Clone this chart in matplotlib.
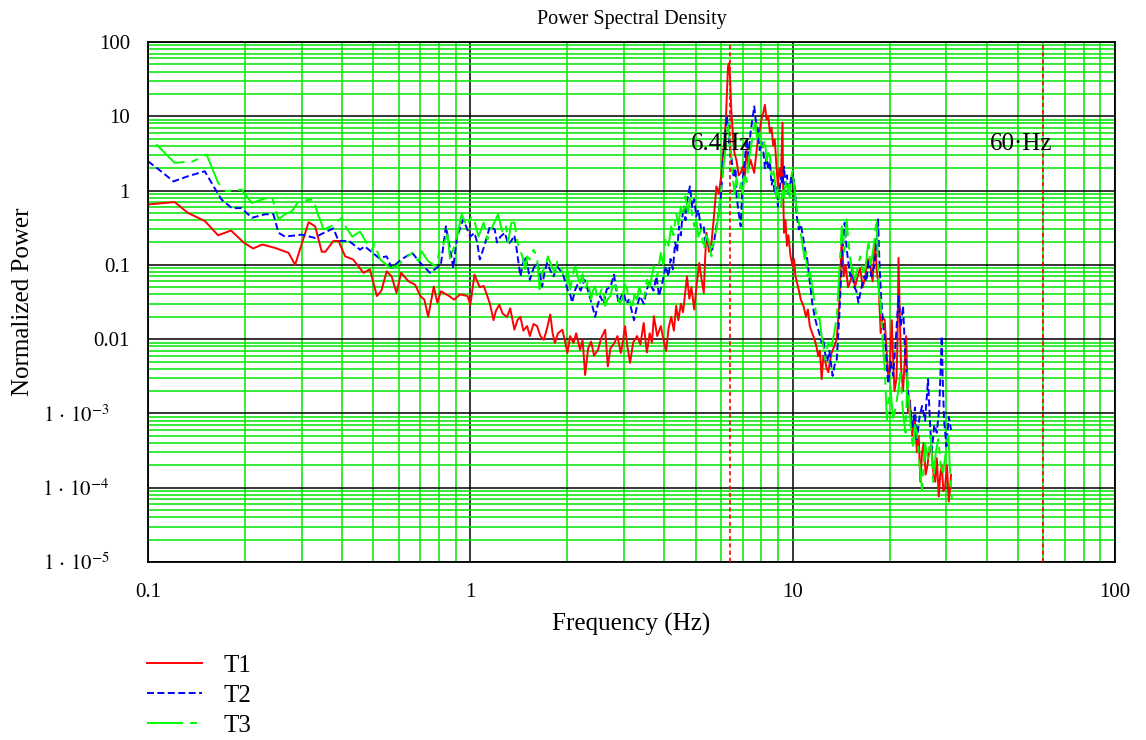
import numpy as np
import matplotlib
matplotlib.use("Agg")
import matplotlib.pyplot as plt
from matplotlib.ticker import FixedLocator, LogLocator, NullFormatter
from matplotlib.transforms import ScaledTranslation

plt.rcParams['font.family'] = ['Liberation Serif', 'DejaVu Serif']
plt.rcParams['mathtext.fontset'] = 'stix'
plt.rcParams['lines.scale_dashes'] = False

# T1 (red, solid)
f1 = [0.100, 0.121, 0.133, 0.150, 0.165, 0.181, 0.198, 0.212, 0.226, 0.248, 0.273, 0.286,
      0.315, 0.330, 0.346, 0.355, 0.376, 0.390, 0.409, 0.433, 0.466, 0.488, 0.513, 0.530,
      0.550, 0.570, 0.590, 0.610, 0.643, 0.674, 0.700, 0.720, 0.740, 0.770, 0.790, 0.810,
      0.860, 0.890, 0.930, 0.980,
      1.00, 1.03, 1.05, 1.07, 1.10, 1.12, 1.15, 1.18, 1.20, 1.23,
      1.26, 1.30, 1.33, 1.37, 1.40, 1.43, 1.46, 1.50, 1.53, 1.57,
      1.61, 1.65, 1.69, 1.73, 1.77, 1.80, 1.83, 1.87, 1.93, 1.97,
      2.00, 2.04, 2.09, 2.13, 2.19, 2.23, 2.27, 2.32, 2.37, 2.42,
      2.49, 2.55, 2.62, 2.67, 2.72, 2.80, 2.86, 2.93, 2.97, 3.02,
      3.07, 3.13, 3.20, 3.29, 3.37, 3.45, 3.50, 3.53, 3.60, 3.66,
      3.71, 3.80, 3.90, 3.97, 4.05, 4.12, 4.20, 4.28, 4.35, 4.42,
      4.50, 4.57, 4.65, 4.70, 4.78, 4.85, 4.95, 5.05, 5.13, 5.20,
      5.30, 5.35, 5.40, 5.50, 5.60, 5.70, 5.80, 5.90, 6.00, 6.10,
      6.20, 6.25, 6.30, 6.35, 6.40, 6.45, 6.50, 6.55, 6.60, 6.70,
      6.80, 6.90, 7.00, 7.10, 7.20, 7.30, 7.40, 7.50, 7.60, 7.70,
      7.80, 7.90, 8.00, 8.10, 8.20, 8.30, 8.40, 8.50, 8.60, 8.70,
      8.80, 8.90, 9.00, 9.10, 9.20, 9.30, 9.35, 9.40, 9.50, 9.60,
      9.70, 9.85, 10.0, 10.1, 10.2, 10.4, 10.6, 10.8, 11.0, 11.15,
      11.3, 11.5, 11.7, 11.85, 12.0, 12.15, 12.3, 12.45, 12.6, 12.75,
      12.9, 13.05, 13.2, 13.45, 13.7, 13.95, 14.2, 14.4, 14.6, 14.85,
      15.1, 15.35, 15.6, 15.9, 16.2, 16.5, 16.8, 17.1, 17.4, 17.7,
      18.0, 18.25, 18.5, 18.75, 19.0, 19.3, 19.6, 19.8, 20.0, 20.3,
      20.5, 20.7, 21.0, 21.15, 21.3, 21.5, 21.7, 22.0, 22.25, 22.5,
      22.8, 23.1, 23.5, 23.9, 24.3, 24.6, 24.9, 25.2, 25.5, 25.85,
      26.2, 26.6, 27.0, 27.35, 27.7, 28.0, 28.4, 28.7, 29.0, 29.35,
      29.7, 30.1, 30.5, 30.8, 31.0]
p1 = [0.65, 0.70, 0.50, 0.39, 0.25, 0.29, 0.20, 0.166, 0.188, 0.169, 0.145, 0.10,
      0.375, 0.33, 0.15, 0.15, 0.21, 0.21, 0.13, 0.118, 0.078, 0.087, 0.038, 0.045,
      0.082, 0.070, 0.042, 0.078, 0.060, 0.054, 0.038, 0.034, 0.020, 0.051, 0.031, 0.044,
      0.038, 0.034, 0.040, 0.038,
      0.029, 0.074, 0.060, 0.050, 0.052, 0.042, 0.030, 0.018, 0.024, 0.029,
      0.022, 0.020, 0.026, 0.0134, 0.018, 0.020, 0.013, 0.015, 0.011, 0.016,
      0.015, 0.011, 0.0098, 0.014, 0.0215, 0.012, 0.0089, 0.012, 0.0134, 0.009,
      0.0065, 0.011, 0.0089, 0.012, 0.0072, 0.0098, 0.0033, 0.0075, 0.0093, 0.006,
      0.0072, 0.0105, 0.0134, 0.0043, 0.0075, 0.0089, 0.011, 0.0065, 0.009, 0.015,
      0.008, 0.0048, 0.009, 0.011, 0.0085, 0.0165, 0.009, 0.0066, 0.012, 0.009,
      0.0204, 0.011, 0.015, 0.010, 0.0069, 0.014, 0.020, 0.013, 0.028, 0.018,
      0.030, 0.023, 0.045, 0.070, 0.035, 0.050, 0.025, 0.060, 0.106, 0.07,
      0.042, 0.12, 0.27, 0.15, 0.20, 0.45, 1.14, 0.9, 1.56, 3.5,
      8.2, 20.0, 47.0, 52.0, 30.0, 12.0, 7.3, 4.5, 3.2, 2.5,
      1.6, 1.73, 2.1, 1.5, 3.6, 2.0, 2.6, 2.1, 1.73, 3.0,
      4.9, 6.5, 9.0, 11.0, 14.3, 9.0, 10.0, 6.0, 7.0, 4.0,
      4.9, 2.2, 1.14, 2.0, 1.5, 8.2, 0.8, 0.27, 0.4, 0.18,
      0.25, 0.13, 0.096, 0.12, 0.07, 0.05, 0.034, 0.028, 0.020, 0.025,
      0.015, 0.012, 0.0098, 0.008, 0.0059, 0.007, 0.0029, 0.006, 0.0053, 0.004,
      0.0036, 0.005, 0.0065, 0.008, 0.010, 0.03, 0.24, 0.07, 0.10, 0.05,
      0.06, 0.08, 0.05, 0.07, 0.09, 0.05, 0.07, 0.12, 0.10, 0.06,
      0.22, 0.08, 0.05, 0.012, 0.020, 0.018, 0.006, 0.003, 0.004, 0.018,
      0.005, 0.002, 0.003, 0.01, 0.124, 0.02, 0.004, 0.002, 0.005, 0.011,
      0.001, 0.0015, 0.0005, 0.0009, 0.0003, 0.0005, 0.00012, 0.0003, 0.0004, 0.00015,
      0.0002, 0.00035, 0.0003, 0.00015, 0.00012, 0.00025, 0.000076, 0.00015, 0.0002, 0.00009,
      0.0001, 0.0002, 0.000065, 0.0001, 0.00015]

# T2 (blue, dashed)
f2 = [0.100, 0.108, 0.120, 0.133, 0.150, 0.162, 0.169, 0.182, 0.195, 0.210, 0.231, 0.245,
      0.254, 0.266, 0.300, 0.330, 0.342, 0.376, 0.390, 0.420, 0.455, 0.470, 0.520, 0.550,
      0.570, 0.610, 0.660, 0.700, 0.750, 0.810, 0.840, 0.870, 0.885, 0.910, 0.950,
      1.00, 1.03, 1.05, 1.07, 1.10, 1.12, 1.15, 1.19, 1.21, 1.24,
      1.28, 1.31, 1.34, 1.37, 1.39, 1.43, 1.46, 1.48, 1.51, 1.53,
      1.57, 1.61, 1.64, 1.67, 1.70, 1.73, 1.77, 1.81, 1.86, 1.93,
      1.97, 2.00, 2.04, 2.07, 2.11, 2.15, 2.20, 2.26, 2.30, 2.33,
      2.38, 2.44, 2.48, 2.53, 2.59, 2.65, 2.72, 2.79, 2.84, 2.88,
      2.94, 2.99, 3.05, 3.10, 3.16, 3.22, 3.29, 3.36, 3.45, 3.53,
      3.60, 3.70, 3.78, 3.85, 3.95, 4.04, 4.12, 4.18, 4.25, 4.32,
      4.38, 4.44, 4.50, 4.55, 4.60, 4.65, 4.72, 4.80, 4.88, 4.95,
      5.02, 5.10, 5.20, 5.30, 5.35, 5.40, 5.50, 5.60, 5.70, 5.80,
      5.90, 6.00, 6.10, 6.20, 6.25, 6.35, 6.45, 6.55, 6.65, 6.70,
      6.80, 6.90, 7.00, 7.10, 7.20, 7.30, 7.40, 7.50, 7.60, 7.70,
      7.80, 7.90, 8.00, 8.10, 8.20, 8.30, 8.40, 8.50, 8.60, 8.70,
      8.80, 8.90, 9.00, 9.10, 9.20, 9.30, 9.40, 9.50, 9.60, 9.70,
      9.80, 9.90, 10.00, 10.10, 10.20, 10.30, 10.45, 10.60, 10.80, 10.95,
      11.10, 11.30, 11.50, 11.70, 11.90, 12.10, 12.30, 12.45, 12.60, 12.80,
      13.00, 13.30, 13.50, 13.70, 13.95, 14.20, 14.35, 14.50, 14.65, 14.80,
      15.10, 15.30, 15.50, 15.75, 16.00, 16.35, 16.70, 16.95, 17.20, 17.55,
      17.90, 18.15, 18.40, 18.60, 18.80, 19.10, 19.40, 19.60, 19.80, 20.15,
      20.50, 20.90, 21.30, 21.65, 22.00, 22.35, 22.70, 23.15, 23.60, 23.95,
      24.30, 24.75, 25.20, 25.75, 26.30, 26.65, 27.00, 27.50, 28.00, 28.50,
      29.00, 29.20, 29.50, 30.00, 30.50, 31.00]
p2 = [2.48, 1.92, 1.33, 1.56, 1.82, 1.03, 0.76, 0.58, 0.58, 0.43, 0.48, 0.48,
      0.27, 0.24, 0.255, 0.23, 0.255, 0.31, 0.21, 0.21, 0.16, 0.178, 0.124, 0.13,
      0.091, 0.118, 0.145, 0.106, 0.078, 0.100, 0.33, 0.145, 0.091, 0.24, 0.41,
      0.24, 0.27, 0.20, 0.118, 0.17, 0.22, 0.33, 0.30, 0.20, 0.24,
      0.27, 0.19, 0.21, 0.25, 0.17, 0.07, 0.11, 0.13, 0.09, 0.063,
      0.09, 0.106, 0.08, 0.051, 0.08, 0.106, 0.085, 0.070, 0.095, 0.078,
      0.06, 0.047, 0.04, 0.031, 0.045, 0.054, 0.045, 0.063, 0.05, 0.042,
      0.03, 0.020, 0.028, 0.038, 0.03, 0.047, 0.05, 0.074, 0.045, 0.031,
      0.038, 0.042, 0.03, 0.034, 0.025, 0.018, 0.028, 0.038, 0.03, 0.047,
      0.057, 0.045, 0.07, 0.038, 0.06, 0.096, 0.07, 0.12, 0.087, 0.2,
      0.15, 0.33, 0.25, 0.45, 0.61, 0.4, 0.8, 1.14, 0.6, 0.76,
      0.45, 0.55, 0.3, 0.33, 0.2, 0.24, 0.18, 0.145, 0.2, 0.33,
      0.5, 0.93, 3.0, 7.0, 10.0, 4.5, 2.9, 1.5, 2.0, 0.84,
      0.5, 0.33, 1.4, 2.5, 4.9, 3.0, 6.0, 9.0, 13.6, 8.0,
      6.6, 3.5, 4.5, 3.6, 2.0, 2.8, 1.9, 2.5, 1.2, 1.4,
      0.9, 1.1, 0.61, 1.0, 1.5, 1.2, 2.1, 1.2, 1.6, 0.9,
      1.14, 1.5, 1.27, 1.4, 0.8, 0.45, 0.3, 0.35, 0.22, 0.15,
      0.118, 0.06, 0.031, 0.02, 0.015, 0.012, 0.0089, 0.01, 0.0065, 0.005,
      0.007, 0.0032, 0.0045, 0.0053, 0.02, 0.106, 0.2, 0.37, 0.2, 0.13,
      0.07, 0.09, 0.051, 0.045, 0.031, 0.05, 0.070, 0.06, 0.118, 0.07,
      0.096, 0.15, 0.41, 0.1, 0.038, 0.015, 0.0089, 0.004, 0.0025, 0.005,
      0.0032, 0.01, 0.038, 0.015, 0.028, 0.006, 0.0023, 0.0012, 0.00067, 0.0012,
      0.00045, 0.0009, 0.00126, 0.0008, 0.0029, 0.0008, 0.0003, 0.0007, 0.00055, 0.0012,
      0.011, 0.003, 0.0008, 0.00036, 0.0009, 0.0006]

# T3 (green, long dash - short dash)
f3 = [0.106, 0.121, 0.138, 0.152, 0.165, 0.175, 0.195, 0.210, 0.242, 0.254, 0.266, 0.280,
      0.293, 0.326, 0.338, 0.342, 0.350, 0.370, 0.400, 0.410, 0.430, 0.455, 0.476, 0.495,
      0.505, 0.525, 0.565, 0.590, 0.605, 0.630, 0.660, 0.690, 0.705, 0.740, 0.780, 0.800,
      0.830, 0.850, 0.865, 0.910, 0.940, 0.975,
      1.010, 1.030, 1.060, 1.080, 1.100, 1.130, 1.150, 1.180, 1.220, 1.240,
      1.260, 1.290, 1.310, 1.340, 1.370, 1.400, 1.450, 1.480, 1.500, 1.530,
      1.570, 1.610, 1.640, 1.670, 1.710, 1.740, 1.770, 1.830, 1.860, 1.900,
      1.970, 2.000, 2.040, 2.080, 2.110, 2.150, 2.190, 2.230, 2.270, 2.320,
      2.370, 2.400, 2.440, 2.480, 2.530, 2.570, 2.620, 2.670, 2.720, 2.780,
      2.850, 2.900, 2.960, 3.010, 3.060, 3.110, 3.170, 3.230, 3.290, 3.340,
      3.390, 3.460, 3.530, 3.600, 3.710, 3.800, 3.900, 3.970, 4.040, 4.120,
      4.200, 4.270, 4.350, 4.420, 4.500, 4.570, 4.650, 4.730, 4.810, 4.880,
      4.950, 5.020, 5.100, 5.200, 5.300, 5.400, 5.500, 5.600, 5.700, 5.800,
      5.900, 6.000, 6.100, 6.200, 6.300, 6.370, 6.450, 6.520, 6.600, 6.700,
      6.800, 6.900, 7.000, 7.100, 7.200, 7.300, 7.400, 7.500, 7.650, 7.750,
      7.900, 8.000, 8.100, 8.200, 8.300, 8.400, 8.500, 8.600, 8.700, 8.800,
      8.900, 9.000, 9.100, 9.200, 9.300, 9.400, 9.500, 9.600, 9.700, 9.800,
      9.900, 10.00, 10.10, 10.20, 10.35, 10.50, 10.70, 10.90, 11.00, 11.10,
      11.30, 11.50, 11.70, 11.90, 12.10, 12.30, 12.45, 12.60, 12.90, 13.20,
      13.45, 13.70, 13.95, 14.20, 14.45, 14.70, 14.90, 15.10, 15.35, 15.60,
      15.90, 16.20, 16.50, 16.80, 17.00, 17.20, 17.40, 17.60, 17.90, 18.20,
      18.35, 18.50, 18.75, 19.00, 19.30, 19.60, 19.85, 20.10, 20.50, 20.90,
      21.25, 21.60, 22.00, 22.40, 22.70, 23.15, 23.60, 23.95, 24.30, 24.75,
      25.20, 25.75, 26.30, 26.80, 27.30, 27.80, 28.30, 28.80, 29.30, 29.85,
      30.40, 30.80, 31.20]
p3 = [4.2, 2.36, 2.48, 3.05, 1.27, 0.98, 1.03, 0.68, 0.84, 0.41, 0.48, 0.53,
      0.72, 0.76, 0.45, 0.41, 0.30, 0.33, 0.43, 0.33, 0.24, 0.28, 0.20, 0.16,
      0.19, 0.118, 0.091, 0.096, 0.106, 0.124, 0.145, 0.112, 0.153, 0.112, 0.096, 0.145,
      0.20, 0.255, 0.118, 0.24, 0.48, 0.33,
      0.45, 0.385, 0.24, 0.30, 0.37, 0.22, 0.28, 0.35, 0.48, 0.35,
      0.27, 0.33, 0.20, 0.37, 0.37, 0.20, 0.13, 0.087, 0.13, 0.118,
      0.16, 0.13, 0.047, 0.08, 0.096, 0.13, 0.106, 0.078, 0.11, 0.096,
      0.063, 0.085, 0.047, 0.07, 0.106, 0.07, 0.057, 0.075, 0.047, 0.06,
      0.034, 0.045, 0.051, 0.035, 0.042, 0.05, 0.028, 0.035, 0.038, 0.06,
      0.047, 0.03, 0.034, 0.055, 0.047, 0.035, 0.025, 0.04, 0.034, 0.05,
      0.042, 0.035, 0.063, 0.05, 0.096, 0.07, 0.145, 0.10, 0.24, 0.18,
      0.33, 0.25, 0.50, 0.35, 0.61, 0.45, 0.84, 0.5, 0.76, 0.45,
      0.33, 0.4, 0.24, 0.3, 0.16, 0.25, 0.20, 0.13, 0.22, 0.3,
      0.50, 1.0, 2.1, 4.0, 8.2, 5.0, 2.9, 1.5, 0.93, 1.5,
      0.8, 1.27, 0.9, 1.73, 1.3, 2.5, 3.6, 5.0, 9.0, 5.0,
      6.0, 3.5, 4.0, 4.9, 2.5, 3.2, 2.9, 1.6, 2.0, 1.4,
      0.8, 1.1, 0.7, 0.61, 1.0, 0.8, 1.4, 0.9, 1.2, 0.8,
      1.56, 1.9, 1.2, 0.76, 0.5, 0.33, 0.2, 0.118, 0.15, 0.07,
      0.08, 0.051, 0.03, 0.018, 0.02, 0.011, 0.008, 0.0053, 0.009, 0.008,
      0.012, 0.020, 0.08, 0.33, 0.15, 0.41, 0.2, 0.118, 0.08, 0.063,
      0.09, 0.13, 0.08, 0.087, 0.14, 0.22, 0.1, 0.118, 0.2, 0.41,
      0.15, 0.042, 0.03, 0.010, 0.004, 0.00083, 0.0015, 0.0023, 0.0008, 0.00126,
      0.002, 0.0035, 0.001, 0.00055, 0.0035, 0.0008, 0.00033, 0.0007, 0.00055, 0.0002,
      0.000095, 0.0004, 0.00024, 0.0005, 0.00012, 0.0003, 0.00045, 0.0002, 0.00016, 0.0003,
      0.00055, 0.00015, 0.00007]

marker_freqs = [6.4, 60.0]
marker_labels = ["6.4Hz", "60\u00b7Hz"]
marker_label_x = [6.0, 51.0]
marker_label_y = 4.2

x_ticks = [0.1, 1, 10, 100]
x_ticklabels = ["0.1", "1", "10", "100"]
y_ticks = [1e-5, 1e-4, 1e-3, 0.01, 0.1, 1, 10, 100]
y_ticklabels = [r"$1\,\cdot\,10^{-5}$", r"$1\,\cdot\,10^{-4}$", r"$1\,\cdot\,10^{-3}$",
                "0.01", "0.1", "1", "10", "100"]

fig = plt.figure(figsize=(11.46, 7.40), dpi=100)
ax = fig.add_axes([148 / 1146, 1 - 562 / 740, (1115 - 148) / 1146, (562 - 42) / 740])
ax.set_xscale('log')
ax.set_yscale('log')
ax.set_xlim(0.1, 100)
ax.set_ylim(1e-5, 100)

# grid: green minor, black major
ax.xaxis.set_minor_locator(LogLocator(base=10, subs=np.arange(2, 10)))
ax.yaxis.set_minor_locator(LogLocator(base=10, subs=np.arange(2, 10)))
ax.xaxis.set_minor_formatter(NullFormatter())
ax.yaxis.set_minor_formatter(NullFormatter())
ax.grid(True, which='minor', color='#00e600', lw=1.1, zorder=0)
ax.grid(True, which='major', color='black', lw=1.1, zorder=0)
ax.set_axisbelow(True)

l1, = ax.plot(f1, p1, color='#ff0000', lw=1.4, label='T1')
l2, = ax.plot(f2, p2, color='#0000ff', lw=1.4, dashes=(5, 2.5), label='T2')
l3, = ax.plot(f3, p3, color='#00ff00', lw=1.4, dashes=(26, 5, 5, 5), label='T3')

for fx in marker_freqs:
    ax.axvline(fx, color='#ff0000', lw=1.2, dashes=(3, 2.2), zorder=3)
for lx, txt in zip(marker_label_x, marker_labels):
    ax.text(lx, marker_label_y, txt, ha='center', va='center', fontsize=18, zorder=5)

ax.xaxis.set_major_locator(FixedLocator(x_ticks))
ax.yaxis.set_major_locator(FixedLocator(y_ticks))
ax.set_xticklabels(x_ticklabels)
ax.set_yticklabels(y_ticklabels)
ax.tick_params(which='both', length=0, labelsize=15)
ax.tick_params(axis='x', pad=15)
ax.tick_params(axis='y', pad=13)
for s in ax.spines.values():
    s.set_linewidth(1.3)

# exponent labels sit further left, as in the original
shift = ScaledTranslation(-20 / 100, 0, fig.dpi_scale_trans)
for lab in ax.get_yticklabels()[:3]:
    lab.set_transform(lab.get_transform() + shift)

ax.set_title("Power Spectral Density", fontsize=14.5, pad=13)
ax.set_xlabel("Frequency (Hz)", fontsize=18, labelpad=8)
ax.set_ylabel("Normalized Power", fontsize=18)
ax.yaxis.set_label_coords(-0.118, 0.5)

fig.legend(handles=[l1, l2, l3], labels=['T1', 'T2', 'T3'], loc='upper left',
           bbox_to_anchor=(124 / 1146, 1 - 632 / 740), frameon=False, fontsize=18,
           handlelength=2.2, labelspacing=0.3, handletextpad=0.9)

fig.savefig("out.png", dpi=100)
